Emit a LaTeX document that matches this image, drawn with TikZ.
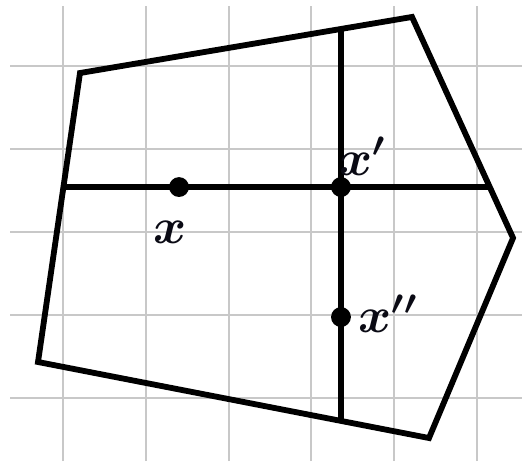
\documentclass[tikz,border=0pt]{standalone}
\usepackage{bm}
\usetikzlibrary{positioning}
\definecolor{cG}{HTML}{C8C8C8}
\definecolor{cK}{HTML}{0A0A14}
\begin{document}
\begin{tikzpicture}[
  gr/.style={cG,line width=.7pt},
  ed/.style={black,line width=2pt},
  dt/.style={circle,fill=black,inner sep=0pt,minimum size=2.4mm},
  lb/.style={font=\LARGE,cK,inner sep=1pt}]
\useasboundingbox (-0.761,-2.766) rectangle (5.543,2.802);
\draw[gr,step=1] (-0.64,-2.766) grid (5.543,2.73);
% pentagon corners
\coordinate (a) at (0.205,1.920);
\coordinate (b) at (4.215,2.597);
\coordinate (c) at (5.435,-0.072);
\coordinate (d) at (4.420,-2.488);
\coordinate (e) at (-0.302,-1.570);
\draw[ed] (a) -- (b) -- (c) -- (d) -- (e) -- cycle;
\coordinate (px) at (1.401,0.543);
\coordinate (pxp) at (3.357,0.543);
\coordinate (pxpp) at (3.357,-1.027);
% chords from edge to edge
\coordinate (hL) at (intersection of a--e and px--pxp);
\coordinate (hR) at (intersection of b--c and px--pxp);
\coordinate (vT) at (intersection of a--b and pxp--pxpp);
\coordinate (vB) at (intersection of e--d and pxp--pxpp);
\draw[ed] (hL) -- (hR);
\draw[ed] (vT) -- (vB);
\node[dt] (x) at (px) {};
\node[dt] (xp) at (pxp) {};
\node[dt] (xpp) at (pxpp) {};
\node[lb] (lx) at ([shift={(-0.11,-0.55)}]x) {$\bm{x}$};
\node[lb] (lxp) at ([shift={(0.26,0.37)}]xp) {$\bm{x'}$};
\node[lb] (lxpp) at ([shift={(0.57,0.04)}]xpp) {$\bm{x''}$};
\end{tikzpicture}
\end{document}
